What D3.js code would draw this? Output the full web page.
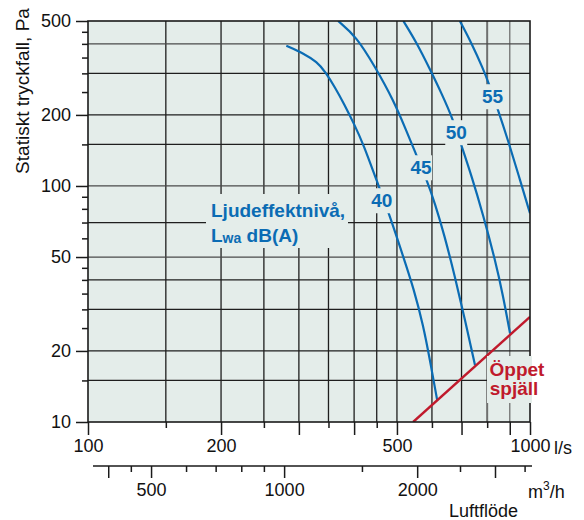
<!DOCTYPE html>
<html><head><meta charset="utf-8">
<script src="https://cdn.jsdelivr.net/npm/d3@7"></script>
<style>
html,body{margin:0;padding:0;background:#fff;}
svg{display:block;font-family:"Liberation Sans",Arial,Helvetica,sans-serif;}
</style></head>
<body><svg id="c" width="584" height="520"></svg>
<script>
// ---- data ----
const flow40 = [281, 307, 330, 344, 362, 380, 400, 420, 450, 478, 517, 545, 574, 594, 617];
const pa40   = [393, 365, 335, 305, 262, 222, 183, 150, 105, 78, 50, 37, 25.5, 18.2, 12.3];
const flow45 = [368, 405, 446, 491, 526, 549, 584, 610, 640, 677, 713, 751];
const pa45   = [500, 429, 320, 231, 170, 140, 106, 84, 62, 41, 27, 17.4];
const flow50 = [517, 554, 594, 632, 669, 694, 738, 784, 833, 870, 901];
const pa50   = [500, 405, 312, 245, 192, 155, 110, 75, 49, 34, 23.8];
const flow55 = [694, 738, 784, 805, 843, 893, 941, 1000];
const pa55   = [500, 402, 312, 275, 215, 155, 112, 76.6];
const flowOpen = [544, 1000];
const paOpen   = [10, 27.9];

const levelLabels = ["40", "45", "50", "55"];
const levelLabelFlow = [462, 567, 681, 823];
const levelLabelPa = [87, 120, 169, 240];

const xTickLabels = [100, 200, 500, 1000];
const xTickLong = [100, 200, 300, 400, 500, 700, 900, 1000];
const xTickShort = [150, 250, 350, 450, 600, 800];
const xGrid = [150, 200, 250, 300, 350, 400, 450, 500, 600, 700, 800, 900];
const yTickLabels = [10, 20, 50, 100, 200, 500];
const yTickMinor = [15, 25, 30, 35, 40, 45, 60, 70, 80, 90, 150, 250, 300, 350, 400, 450];
const yGrid = [15, 20, 30, 40, 50, 70, 100, 150, 200, 300, 400];
const m3hLabels = [500, 1000, 2000];
const m3hLong = [400, 500, 1000, 2000, 3000];
const m3hShort = [450, 600, 700, 800, 900, 1500, 2500, 3500];

// ---- layout ----
const L = 88, R = 530, T = 21, B = 422;
const BG = "#e4edea", BLUE = "#0b6cb4", RED = "#c01a2c";
const svg = d3.select("#c");
const x = d3.scaleLog().domain([100, 1000]).range([L, R]);
const y = d3.scaleLog().domain([10, 500]).range([B, T]);
const xm = d3.scaleLog().domain([360, 3600]).range([L, R]); // m3/h = 3.6 * l/s

svg.append("rect").attr("x", L).attr("y", T).attr("width", R - L).attr("height", B - T).attr("fill", BG);

// grid
const g = svg.append("g");
g.selectAll("line.v").data(xGrid).join("line")
  .attr("x1", d => x(d)).attr("x2", d => x(d)).attr("y1", T).attr("y2", B)
  .attr("stroke", d => (d === 800 || d === 900) ? "#6f706f" : "#1e1e1e").attr("stroke-width", d => d === 800 ? 2 : 1.3);
g.selectAll("line.h").data(yGrid).join("line")
  .attr("y1", d => y(d)).attr("y2", d => y(d)).attr("x1", L).attr("x2", R)
  .attr("stroke", d => [400, 100, 50].includes(d) ? "#4a4a4a" : "#1e1e1e").attr("stroke-width", 1.3);

// curves
svg.append("clipPath").attr("id", "pc").append("rect").attr("x", L).attr("y", T).attr("width", R - L).attr("height", B - T);
const line = d3.line().x(d => x(d[0])).y(d => y(d[1])).curve(d3.curveBasis);
const curves = [[flow40, pa40], [flow45, pa45], [flow50, pa50], [flow55, pa55]];
const cg = svg.append("g").attr("clip-path", "url(#pc)");
curves.forEach(([f, p]) => {
  cg.append("path").attr("d", line(f.map((v, i) => [v, p[i]])))
    .attr("fill", "none").attr("stroke", BLUE).attr("stroke-width", 2.2);
});
cg.append("path").attr("d", d3.line().x(d => x(d[0])).y(d => y(d[1]))(flowOpen.map((v, i) => [v, paOpen[i]])))
  .attr("fill", "none").attr("stroke", RED).attr("stroke-width", 2.4);

// frame
svg.append("rect").attr("x", L).attr("y", T).attr("width", R - L).attr("height", B - T)
  .attr("fill", "none").attr("stroke", "#1a1a1a").attr("stroke-width", 1.6);

// level labels with patches
levelLabels.forEach((t, i) => {
  const cx = x(levelLabelFlow[i]), cy = y(levelLabelPa[i]);
  svg.append("rect").attr("x", cx - 11).attr("y", cy - 12).attr("width", 22).attr("height", 25).attr("fill", BG);
  svg.append("text").attr("x", cx).attr("y", cy + 7).attr("text-anchor", "middle")
    .attr("font-size", 19).attr("font-weight", "bold").attr("fill", BLUE).text(t);
});

// legend-ish text
svg.append("rect").attr("x", 206).attr("y", 194).attr("width", 142).attr("height", 54).attr("fill", BG);
svg.append("text").attr("x", 211).attr("y", 217).attr("font-size", 19).attr("font-weight", "bold").attr("fill", BLUE).text("Ljudeffektnivå,");
const t2 = svg.append("text").attr("x", 211).attr("y", 242).attr("font-size", 19).attr("font-weight", "bold").attr("fill", BLUE);
t2.append("tspan").text("L");
t2.append("tspan").attr("font-size", 14).attr("dy", 1).text("wa");
t2.append("tspan").attr("dy", -1).text(" dB(A)");

svg.append("rect").attr("x", 487).attr("y", 356).attr("width", 45).attr("height", 47).attr("fill", BG);
svg.append("text").attr("x", 517).attr("y", 376).attr("text-anchor", "middle").attr("font-size", 19).attr("font-weight", "bold").attr("fill", RED).text("Öppet");
svg.append("text").attr("x", 514).attr("y", 395).attr("text-anchor", "middle").attr("font-size", 19).attr("font-weight", "bold").attr("fill", RED).text("spjäll");

// axes
const fmt = d => d3.format("d")(d);
const yMaj = svg.append("g").attr("transform", `translate(${L},0)`)
  .call(d3.axisLeft(y).tickValues(yTickLabels).tickFormat(fmt).tickSize(12).tickPadding(5));
const yMin = svg.append("g").attr("transform", `translate(${L},0)`)
  .call(d3.axisLeft(y).tickValues(yTickMinor).tickFormat("").tickSize(6));
const xMaj = svg.append("g").attr("transform", `translate(0,${B})`)
  .call(d3.axisBottom(x).tickValues(xTickLong).tickFormat(d => xTickLabels.includes(d) ? fmt(d) : "").tickSize(13).tickPadding(4));
const xMin = svg.append("g").attr("transform", `translate(0,${B})`)
  .call(d3.axisBottom(x).tickValues(xTickShort).tickFormat("").tickSize(6));
const mAxY = 466;
const mMaj = svg.append("g").attr("transform", `translate(0,${mAxY})`)
  .call(d3.axisBottom(xm).tickValues(m3hLong).tickFormat(d => m3hLabels.includes(d) ? fmt(d) : "").tickSize(12).tickPadding(5));
const mMin = svg.append("g").attr("transform", `translate(0,${mAxY})`)
  .call(d3.axisBottom(xm).tickValues(m3hShort).tickFormat("").tickSize(6));
[yMaj, yMin, xMaj, xMin, mMaj, mMin].forEach(a => {
  a.select(".domain").remove();
  a.selectAll("line").attr("stroke", "#1a1a1a").attr("stroke-width", 1.5);
  a.selectAll("text").attr("font-size", 18).attr("fill", "#111").attr("font-family", "'Liberation Sans',Arial,sans-serif");
});
svg.append("line").attr("x1", 93).attr("x2", 532).attr("y1", mAxY).attr("y2", mAxY).attr("stroke", "#1a1a1a").attr("stroke-width", 1.6);

// axis titles
svg.append("text").attr("transform", "translate(29,91) rotate(-90)").attr("text-anchor", "middle")
  .attr("font-size", 19).attr("fill", "#111").text("Statiskt tryckfall, Pa");
svg.append("text").attr("x", 554).attr("y", 454).attr("font-size", 18).attr("fill", "#111").text("l/s");
const mt = svg.append("text").attr("x", 528).attr("y", 498).attr("font-size", 18).attr("fill", "#111");
mt.append("tspan").text("m");
mt.append("tspan").attr("font-size", 12).attr("dy", -8).text("3");
mt.append("tspan").attr("dy", 8).text("/h");
svg.append("text").attr("x", 449).attr("y", 517).attr("font-size", 18).attr("fill", "#111").text("Luftflöde");
</script></body></html>
